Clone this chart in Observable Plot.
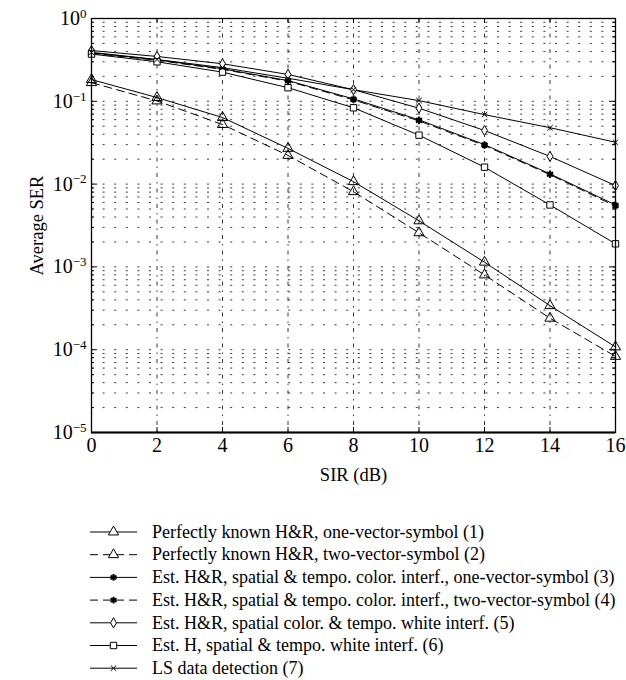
<!DOCTYPE html>
<html><head><meta charset="utf-8">
<script src="https://cdn.jsdelivr.net/npm/d3@7"></script>
<script src="https://cdn.jsdelivr.net/npm/@observablehq/plot@0.6"></script>
<style>
html,body{margin:0;padding:0;background:#fff;}
body{font-family:"Liberation Serif","DejaVu Serif",serif;}
svg{display:block;}
</style></head>
<body><div id="chart"></div><div id="legend"></div>
<script>
// ---- data ----
const sir = [0, 2, 4, 6, 8, 10, 12, 14, 16];
const ser1 = [0.183, 0.111, 0.0637, 0.027, 0.0107, 0.0036, 0.00114, 0.00034, 0.000108];
const ser2 = [0.168, 0.101, 0.0524, 0.0222, 0.0081, 0.00258, 0.0008, 0.00024, 0.000083];
const ser3 = [0.385, 0.317, 0.247, 0.178, 0.107, 0.0597, 0.030, 0.0133, 0.0056];
const ser4 = [0.38, 0.313, 0.243, 0.175, 0.104, 0.058, 0.0293, 0.013, 0.0054];
const ser5 = [0.41, 0.348, 0.284, 0.211, 0.138, 0.0826, 0.0444, 0.0216, 0.0096];
const ser6 = [0.372, 0.30, 0.225, 0.146, 0.0835, 0.039, 0.016, 0.0056, 0.0019];
const ser7 = [0.39, 0.32, 0.255, 0.19, 0.138, 0.102, 0.069, 0.048, 0.032];
const seriesNames = [
  "Perfectly known H&R, one-vector-symbol (1)",
  "Perfectly known H&R, two-vector-symbol (2)",
  "Est. H&R, spatial & tempo. color. interf., one-vector-symbol (3)",
  "Est. H&R, spatial & tempo. color. interf., two-vector-symbol (4)",
  "Est. H&R, spatial color. & tempo. white interf. (5)",
  "Est. H, spatial & tempo. white interf. (6)",
  "LS data detection (7)"
];
const xTicks = [0, 2, 4, 6, 8, 10, 12, 14, 16];
const yTicks = [1e-5, 1e-4, 1e-3, 1e-2, 1e-1, 1];
const yTickLabels = ["10^-5", "10^-4", "10^-3", "10^-2", "10^-1", "10^0"];
const xLabel = "SIR (dB)";
const yLabel = "Average SER";

// ---- styles ----
const FONT = "'Liberation Serif', 'DejaVu Serif', serif";
const styles = [
  {symbol: "triangle", r: 3.8, dash: null, fill: "none", sw: 1},
  {symbol: "triangle", r: 3.8, dash: "8,5", fill: "none", sw: 1},
  {symbol: "asterisk", r: 3.2, dash: null, fill: "none", sw: 2},
  {symbol: "asterisk", r: 3.2, dash: "8,5", fill: "none", sw: 2},
  {symbol: "diamond", r: 3.1, dash: null, fill: "white", sw: 1},
  {symbol: "square", r: 3.6, dash: null, fill: "white", sw: 1},
  {symbol: "times", r: 2.6, dash: null, fill: "none", sw: 1}
];
const allSeries = [ser1, ser2, ser3, ser4, ser5, ser6, ser7];

const W = 626, H = 490, mT = 18, mB = 58, mL = 91, mR = 11;
const innerW = W - mL - mR, innerH = H - mT - mB;

const yMinor = [];
for (let k = 0; k < yTicks.length - 1; k++) for (let m = 2; m <= 9; m++) yMinor.push(m * yTicks[k]);
const yInner = yTicks.slice(1, -1);
const xInner = xTicks.slice(1, -1);

const lineMarks = [];
allSeries.forEach((vals, i) => {
  const st = styles[i];
  const d = sir.map((x, j) => ({x, y: vals[j], s: seriesNames[i]}));
  lineMarks.push(Plot.line(d, {x: "x", y: "y", stroke: "black", strokeWidth: 1, strokeDasharray: st.dash}));
});
allSeries.forEach((vals, i) => {
  const st = styles[i];
  const d = sir.map((x, j) => ({x, y: vals[j], s: seriesNames[i]}));
  lineMarks.push(Plot.dot(d, {x: "x", y: "y", symbol: () => st.symbol, r: st.r, stroke: "black", fill: st.fill, strokeWidth: st.sw}));
});

const svg = Plot.plot({
  width: W, height: H, marginTop: mT, marginBottom: mB, marginLeft: mL, marginRight: mR,
  style: {fontFamily: FONT, fontSize: "18px", color: "#000", background: "#fff", overflow: "visible"},
  x: {domain: [0, 16]},
  y: {type: "log", domain: [1e-5, 1]},
  symbol: {type: "identity"},
  marks: [
    Plot.ruleY(yMinor, {y: d => d, stroke: "#222", strokeWidth: 0.9, strokeDasharray: "2,9.6"}),
    Plot.ruleY(yInner, {y: d => d, stroke: "#222", strokeWidth: 0.9, strokeDasharray: "2,9.6"}),
    Plot.ruleX(xInner, {x: d => d, stroke: "#222", strokeWidth: 0.9, strokeDasharray: "4,5,1.5,5"}),
    // inward ticks
    Plot.tickX(xTicks, {x: d => d, insetTop: innerH - 5, stroke: "black"}),
    Plot.tickX(xTicks, {x: d => d, insetBottom: innerH - 5, stroke: "black"}),
    Plot.tickY(yTicks, {y: d => d, insetRight: innerW - 6, stroke: "black"}),
    Plot.tickY(yTicks, {y: d => d, insetLeft: innerW - 6, stroke: "black"}),
    Plot.tickY(yMinor, {y: d => d, insetRight: innerW - 3, stroke: "black"}),
    Plot.tickY(yMinor, {y: d => d, insetLeft: innerW - 3, stroke: "black"}),
    ...lineMarks,
    Plot.frame({stroke: "black", strokeWidth: 1.3}),
    Plot.ruleY([1e-5], {stroke: "black", strokeWidth: 2}),
    Plot.axisX({ticks: xTicks, tickSize: 0, tickPadding: 5, label: null, fontSize: 20, fontFamily: FONT}),
    Plot.axisY({ticks: yTicks, tickSize: 0, tickPadding: 5, label: null, fontSize: 20, fontFamily: FONT,
      tickFormat: d => yTickLabels[yTicks.findIndex(t => Math.abs(Math.log10(t) - Math.log10(d)) < 1e-6)]}),
    Plot.text([xLabel], {text: d => d, frameAnchor: "bottom", dy: 43, fontSize: 18.5, fontFamily: FONT, textAnchor: "middle", lineAnchor: "middle"}),
    Plot.text([yLabel], {text: d => d, frameAnchor: "left", dx: -54, rotate: -90, fontSize: 18.5, fontFamily: FONT, textAnchor: "middle", lineAnchor: "middle"})
  ]
});

d3.select(svg).selectAll('g[aria-label="y-axis tick label"] text').each(function() {
  const t = d3.select(this);
  const s = t.text();
  if (!s.includes("^")) return;
  const [b, e] = s.split("^");
  t.text(b);
  t.append("tspan").attr("dy", "-0.55em").attr("font-size", "13px").text(e.replace("-", "\u2212"));
});
document.getElementById("chart").appendChild(svg);

// ---- legend ----
const LH = 190;
const lg = d3.select("#legend").append("svg").attr("width", W).attr("height", LH)
  .attr("font-family", FONT).attr("font-size", "18px");
const symMap = {triangle: d3.symbolTriangle, asterisk: d3.symbolAsterisk, diamond: d3.symbolDiamond, square: d3.symbolSquare, times: d3.symbolTimes};
seriesNames.forEach((name, i) => {
  const st = styles[i];
  const y = 42 + 22.7 * i;
  const g = lg.append("g").attr("transform", `translate(0,${y})`);
  g.append("line").attr("x1", 90).attr("x2", 137).attr("y1", 0).attr("y2", 0)
    .attr("stroke", "black").attr("stroke-width", 1).attr("stroke-dasharray", st.dash || null);
  g.append("path").attr("d", d3.symbol(symMap[st.symbol], Math.PI * st.r * st.r)())
    .attr("transform", "translate(113.5,0)")
    .attr("stroke", "black").attr("stroke-width", st.sw).attr("fill", st.fill === "none" ? "white" : st.fill);
  g.append("text").attr("x", 152).attr("y", 0).attr("dy", "0.32em").text(name);
});
</script>
</body></html>
